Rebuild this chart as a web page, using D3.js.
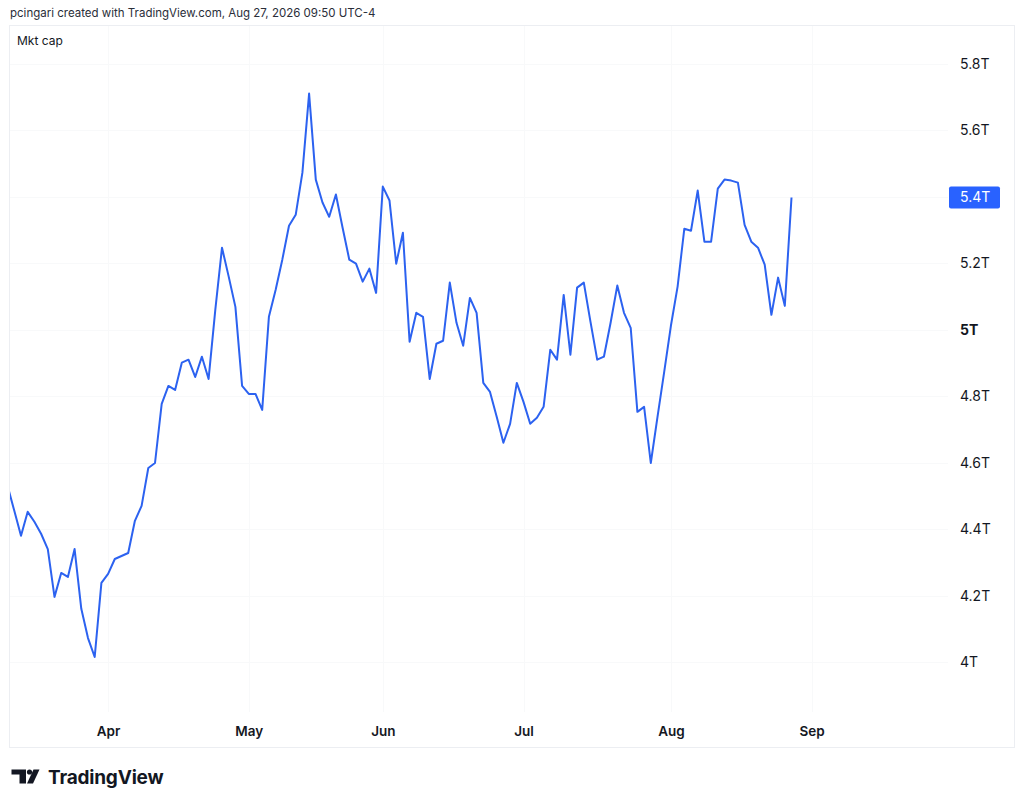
<!DOCTYPE html>
<html>
<head>
<meta charset="utf-8">
<script src="https://cdn.jsdelivr.net/npm/d3@7"></script>
<style>
  html, body { margin: 0; padding: 0; background: #fff; }
  svg { display: block; font-family: Inter, "Noto Sans", sans-serif; }
</style>
</head>
<body>
<svg id="chart" width="1024" height="806"></svg>
<script>
// trading days shown on the chart (Mar 11 - Aug 27, 2026)
const dates = [
  '2026-03-11','2026-03-12','2026-03-13','2026-03-16','2026-03-17','2026-03-18','2026-03-19','2026-03-20',
  '2026-03-23','2026-03-24','2026-03-25','2026-03-26','2026-03-27','2026-03-30','2026-03-31',
  '2026-04-01','2026-04-02','2026-04-06','2026-04-07','2026-04-08','2026-04-09','2026-04-10',
  '2026-04-13','2026-04-14','2026-04-15','2026-04-16','2026-04-17','2026-04-20','2026-04-21',
  '2026-04-22','2026-04-23','2026-04-24','2026-04-27','2026-04-28','2026-04-29','2026-04-30',
  '2026-05-01','2026-05-04','2026-05-05','2026-05-06','2026-05-07','2026-05-08','2026-05-11',
  '2026-05-12','2026-05-13','2026-05-14','2026-05-15','2026-05-18','2026-05-19','2026-05-20',
  '2026-05-21','2026-05-22','2026-05-26','2026-05-27','2026-05-28','2026-05-29',
  '2026-06-01','2026-06-02','2026-06-03','2026-06-04','2026-06-05','2026-06-08','2026-06-09',
  '2026-06-10','2026-06-11','2026-06-12','2026-06-15','2026-06-16','2026-06-17','2026-06-18',
  '2026-06-22','2026-06-23','2026-06-24','2026-06-25','2026-06-26','2026-06-29','2026-06-30',
  '2026-07-01','2026-07-02','2026-07-06','2026-07-07','2026-07-08','2026-07-09','2026-07-10',
  '2026-07-13','2026-07-14','2026-07-15','2026-07-16','2026-07-17','2026-07-20','2026-07-21',
  '2026-07-22','2026-07-23','2026-07-24','2026-07-27','2026-07-28','2026-07-29','2026-07-30','2026-07-31',
  '2026-08-03','2026-08-04','2026-08-05','2026-08-06','2026-08-07','2026-08-10','2026-08-11',
  '2026-08-12','2026-08-13','2026-08-14','2026-08-17','2026-08-18','2026-08-19','2026-08-20',
  '2026-08-21','2026-08-24','2026-08-25','2026-08-26','2026-08-27'
];
// empty slots to the right of the last bar
const futureDates = ['2026-08-28', '2026-08-31', '2026-09-01'];

// market cap, trillions
const mktCap = [
  4.530, 4.455, 4.380, 4.452, 4.422, 4.386, 4.340, 4.196,
  4.268, 4.256, 4.340, 4.160, 4.072, 4.015, 4.238,
  4.265, 4.310, 4.319, 4.328, 4.425, 4.470, 4.584,
  4.599, 4.777, 4.831, 4.819, 4.901, 4.910, 4.858,
  4.919, 4.852, 5.060, 5.247, 5.160, 5.069, 4.831,
  4.807, 4.807, 4.759, 5.039, 5.120, 5.211, 5.313,
  5.346, 5.473, 5.711, 5.452, 5.383, 5.340, 5.407,
  5.307, 5.211, 5.199, 5.145, 5.184, 5.111,
  5.431, 5.389, 5.199, 5.292, 4.964, 5.051, 5.039,
  4.852, 4.958, 4.967, 5.142, 5.021, 4.952, 5.096,
  5.051, 4.840, 4.813, 4.738, 4.660, 4.717, 4.840,
  4.783, 4.717, 4.735, 4.768, 4.940, 4.910, 5.105,
  4.925, 5.127, 5.142, 5.024, 4.910, 4.919, 5.021,
  5.133, 5.051, 5.006, 4.753, 4.768, 4.599, 4.738, 4.873, 5.012,
  5.130, 5.304, 5.298, 5.419, 5.265, 5.265, 5.425,
  5.452, 5.449, 5.443, 5.316, 5.265, 5.247, 5.196,
  5.045, 5.157, 5.072, 5.398
];

const yTicks = [4, 4.2, 4.4, 4.6, 4.8, 5, 5.2, 5.4, 5.6, 5.8];
const monthNames = ['Jan','Feb','Mar','Apr','May','Jun','Jul','Aug','Sep','Oct','Nov','Dec'];

const headerText = 'pcingari created with TradingView.com, Aug 27, 2026 09:50 UTC-4';
const seriesTitle = 'Mkt cap';

const svg = d3.select('#chart');
const W = 1024;
const frame = { x: 9.5, y: 25.5, w: 1005, h: 722 };
const plot = { left: 10, right: 948, top: 26, bottom: 747 };

const slots = dates.concat(futureDates);
const x = d3.scalePoint().domain(slots).range([7.6, 811.6]);
const y = d3.scaleLinear().domain([4, 5.8]).range([662, 64]);

// first trading slot of each month (skip the partial first month)
const monthTicks = slots.filter((d, i) => i > 0 && d.slice(5, 7) !== slots[i - 1].slice(5, 7));

svg.append('rect').attr('width', W).attr('height', 806).attr('fill', '#fff');

svg.append('text')
  .attr('x', 10).attr('y', 17)
  .attr('font-size', 11.5).attr('fill', '#2a2e39')
  .text(headerText);

svg.append('rect')
  .attr('x', frame.x).attr('y', frame.y).attr('width', frame.w).attr('height', frame.h)
  .attr('fill', 'none').attr('stroke', '#eceef2');

// grid
const grid = svg.append('g').attr('class', 'grid');
grid.selectAll('line.h').data(yTicks).join('line').classed('h', true)
  .attr('x1', plot.left).attr('x2', plot.right)
  .attr('y1', (d) => Math.round(y(d)) + 0.5).attr('y2', (d) => Math.round(y(d)) + 0.5)
  .attr('stroke', '#f8f9fa');
grid.selectAll('line.v').data(monthTicks).join('line').classed('v', true)
  .attr('x1', (d) => Math.round(x(d)) + 0.5).attr('x2', (d) => Math.round(x(d)) + 0.5)
  .attr('y1', plot.top).attr('y2', 712)
  .attr('stroke', '#f8f9fa');

svg.append('text')
  .attr('x', 17).attr('y', 45)
  .attr('font-size', 12).attr('fill', '#131722')
  .text(seriesTitle);

svg.append('clipPath').attr('id', 'plot-clip')
  .append('rect')
  .attr('x', plot.left).attr('y', plot.top)
  .attr('width', plot.right - plot.left).attr('height', plot.bottom - plot.top);

const series = dates.map((d, i) => ({ date: d, value: mktCap[i] }));
const line = d3.line().x((d) => x(d.date)).y((d) => y(d.value));

svg.append('path')
  .datum(series)
  .attr('clip-path', 'url(#plot-clip)')
  .attr('fill', 'none')
  .attr('stroke', '#2c62f0')
  .attr('stroke-width', 2)
  .attr('stroke-linejoin', 'round')
  .attr('d', line);

// price axis
const fmtT = (d) => `${+d.toFixed(1)}T`;
const yAxis = svg.append('g')
  .attr('transform', 'translate(957,0)')
  .call(d3.axisRight(y).tickValues(yTicks).tickFormat(fmtT).tickSize(0).tickPadding(3));
yAxis.select('.domain').remove();
yAxis.selectAll('text')
  .attr('font-family', 'Inter, "Noto Sans", sans-serif')
  .attr('font-size', 14)
  .attr('fill', '#131722')
  .attr('font-weight', (d) => (d === 5 ? 700 : 400));

// last value label
const last = series[series.length - 1];
const lastG = svg.append('g').attr('transform', `translate(949,${y(last.value)})`);
lastG.append('rect')
  .attr('x', 0).attr('y', -11).attr('width', 51).attr('height', 22).attr('rx', 2)
  .attr('fill', '#2962ff');
lastG.append('text')
  .attr('x', 11).attr('dy', '0.35em')
  .attr('font-size', 14).attr('fill', '#fff')
  .text(fmtT(Math.round(last.value * 10) / 10));

// time axis
const xAxis = svg.append('g')
  .attr('transform', 'translate(0,722)')
  .call(d3.axisBottom(x).tickValues(monthTicks).tickFormat((d) => monthNames[+d.slice(5, 7) - 1])
    .tickSize(0).tickPadding(4));
xAxis.select('.domain').remove();
xAxis.selectAll('text')
  .attr('font-family', 'Inter, "Noto Sans", sans-serif')
  .attr('font-size', 13.5)
  .attr('font-weight', 600)
  .attr('fill', '#131722');

// TradingView logo
const logo = svg.append('g').attr('transform', 'translate(11.5,769.5)').attr('fill', '#131722');
logo.append('path').attr('d', 'M0,0 H14.5 V14 H8 V5 H0 Z');
logo.append('circle').attr('cx', 18).attr('cy', 2.5).attr('r', 2.6);
logo.append('path').attr('d', 'M22,0 H28 L21.5,14 H15.5 Z');
svg.append('text')
  .attr('x', 48).attr('y', 783.5)
  .attr('font-size', 19).attr('font-weight', 700)
  .attr('letter-spacing', -0.2)
  .attr('fill', '#131722')
  .text('TradingView');
</script>
</body>
</html>
